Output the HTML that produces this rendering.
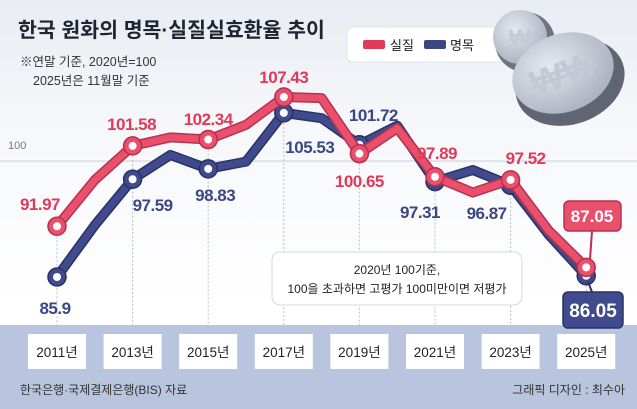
<!DOCTYPE html>
<html><head><meta charset="utf-8"><style>
html,body{margin:0;padding:0}
body{width:637px;height:409px;overflow:hidden;font-family:"Liberation Sans","Noto Sans CJK KR",sans-serif;position:relative;background:linear-gradient(#e9ecf3 0,#f6f7fa 120px,#ffffff 300px)}
svg{position:absolute;left:0;top:0}
</style></head><body>
<svg width="637" height="409" viewBox="0 0 637 409">
<defs>
<radialGradient id="coinG" cx="0.4" cy="0.35" r="0.7"><stop offset="0" stop-color="#e4e8f0"/><stop offset="1" stop-color="#a9b0bd"/></radialGradient>
</defs>
<rect x="0" y="325" width="637" height="84" fill="#b9c5de"/>
<text x="18" y="37" font-size="20.5" font-weight="bold" fill="#1f2430">한국 원화의 명목·실질실효환율 추이</text>
<text x="20" y="66" font-size="12.5" fill="#333">※연말 기준, 2020년=100</text>
<text x="33" y="85" font-size="12.5" fill="#333">2025년은 11월말 기준</text>
<g>
<rect x="347" y="27" width="165" height="35" rx="6" fill="#fff" stroke="#dde1ea"/>
<rect x="363" y="40" width="22" height="9" rx="2" fill="#e03a5a"/>
<text x="390" y="50" font-size="13" fill="#222">실질</text>
<rect x="424" y="40" width="22" height="9" rx="2" fill="#3b4785"/>
<text x="450" y="50" font-size="13" fill="#222">명목</text>
</g>
<g>
<ellipse cx="525" cy="42" rx="30" ry="30" fill="#6e7482"/>
<ellipse cx="520" cy="37" rx="27" ry="27" fill="url(#coinG)"/>
<text x="520" y="46" font-size="24" font-weight="bold" fill="#c5cbd6" text-anchor="middle">₩</text>
<ellipse cx="570" cy="82" rx="56" ry="42" fill="#5f6572" transform="rotate(-20 570 82)"/>
<ellipse cx="563" cy="73" rx="52" ry="39" fill="url(#coinG)" transform="rotate(-20 563 73)"/>
<text x="563" y="86" font-size="36" font-weight="bold" fill="#c3c9d4" text-anchor="middle" transform="rotate(-20 563 73)">₩₩</text>
</g>
<g id="grid"></g>
<g id="plot"></g>
<g>
<rect x="272" y="252" width="250" height="53" rx="8" fill="#fff" stroke="#d5d9e2"/>
<text x="397" y="274" font-size="12" fill="#222" text-anchor="middle">2020년 100기준,</text>
<text x="397" y="293" font-size="12" fill="#222" text-anchor="middle">100을 초과하면 고평가  100미만이면 저평가</text>
</g>
<g id="xaxis"></g>
<text x="20" y="394" font-size="12" fill="#333">한국은행·국제결제은행(BIS) 자료</text>
<text x="625" y="394" font-size="12" fill="#333" text-anchor="end">그래픽 디자인 : 최수아</text>
</svg>
<script>
const years=[2011,2012,2013,2014,2015,2016,2017,2018,2019,2020,2021,2022,2023,2024,2025];
const realVals=[91.97,97.5,101.58,102.6,102.34,104.1,107.43,107.3,100.65,103.7,97.89,96.0,97.52,91.5,87.05];
const nomVals=[85.9,92.1,97.59,100.5,98.83,99.7,105.53,104.9,101.72,104.0,97.31,98.7,96.87,91.0,86.05];
const tickYears=[2011,2013,2015,2017,2019,2021,2023,2025];
const realLabels=[[2011,"91.97"],[2013,"101.58"],[2015,"102.34"],[2017,"107.43"],[2019,"100.65"],[2021,"97.89"],[2023,"97.52"]];
const nomLabels=[[2011,"85.9"],[2013,"97.59"],[2015,"98.83"],[2017,"105.53"],[2019,"101.72"],[2021,"97.31"],[2023,"96.87"]];
const refValue=100;
const NS="http://www.w3.org/2000/svg";
function xs(yr){return 57+(yr-2011)*37.8;}
function ys(v){return 97+(107.43-v)*8.36;}
function mk(tag,attrs,parent){const e=document.createElementNS(NS,tag);for(const k in attrs)e.setAttribute(k,attrs[k]);parent.appendChild(e);return e;}
const grid=document.getElementById('grid'),plot=document.getElementById('plot'),xaxis=document.getElementById('xaxis');
const rl=mk('line',{x1:0,x2:637,y1:ys(refValue)+2,y2:ys(refValue)+2,stroke:'#dfe3ea','stroke-width':2},grid);


const rt=mk('text',{x:8,y:ys(refValue)-10,'font-size':11,fill:'#777'},grid);rt.textContent='100';


tickYears.forEach(yr=>{
  const g=mk('line',{x1:xs(yr),x2:xs(yr),y1:ys(realVals[yr-2011])+10,y2:325,stroke:'#b8bdc8','stroke-width':1,'stroke-dasharray':'2,2'},grid);
  
  
  const b=mk('rect',{x:xs(yr)-29,y:334,width:58,height:35,fill:'#fff'},xaxis);
  
  
  const t=mk('text',{x:xs(yr),y:357,'font-size':13.5,fill:'#222','text-anchor':'middle'},xaxis);t.textContent=yr+'년';
  
  
});
function drawSeries(vals,col,dark,name){
  const pts=vals.map((v,i)=>xs(years[i])+','+ys(v)).join(' ');
  mk('polyline',{points:pts,fill:'none',stroke:dark,'stroke-width':10,'stroke-linejoin':'round','stroke-linecap':'round'},plot);
  const l=mk('polyline',{points:pts,fill:'none',stroke:col,'stroke-width':7,'stroke-linejoin':'round','stroke-linecap':'round'},plot);
  
  
  vals.forEach((v,i)=>{if((years[i]-2011)%2)return;
    const c=mk('circle',{cx:xs(years[i]),cy:ys(v),r:9,fill:col,stroke:dark,'stroke-width':1.5},plot);
    
    
    mk('circle',{cx:xs(years[i]),cy:ys(v),r:4,fill:'#fff'},plot);
  });
}
drawSeries(nomVals,'#3f4b8c','#2a3264','nominal');
drawSeries(realVals,'#e8506c','#b83050','real');
function lbl(yr,txt,dx,dy,col,name){
  const t=mk('text',{x:xs(yr)+dx,y:dy,'font-size':17,'font-weight':'bold',fill:col,'text-anchor':'middle','letter-spacing':'-0.5'},plot);t.textContent=txt;
  
  
}
const rOff={2011:[-17,210],2013:[-1,130],2015:[0,125],2017:[0,83],2019:[0,187],2021:[2,159],2023:[15,164]};
realLabels.forEach(([y,t])=>lbl(y,t,rOff[y][0],rOff[y][1],'#e03a5a','real-label-'+y));
const nOff={2011:[-2,314],2013:[20,211],2015:[7,201],2017:[26,153],2019:[14,121],2021:[-15,218],2023:[-24,219]};
nomLabels.forEach(([y,t])=>lbl(y,t,nOff[y][0],nOff[y][1],'#3b4785','nominal-label-'+y));
const rb=mk('g',{},plot);


mk('rect',{x:564,y:201,width:57,height:30,rx:5,fill:'#e8506c',stroke:'#b83050','stroke-width':1.5},rb);
mk('line',{x1:592,y1:231,x2:590,y2:ys(realVals[14])-8,stroke:'#b83050','stroke-width':2},rb);
const rt2=mk('text',{x:592,y:222,'font-size':17,'font-weight':'bold',fill:'#fff','text-anchor':'middle'},rb);rt2.textContent=realVals[14].toFixed(2);
const nb=mk('g',{},plot);


mk('line',{x1:588,y1:ys(nomVals[14])+6,x2:592,y2:292,stroke:'#2a3264','stroke-width':2},nb);
mk('rect',{x:563,y:292,width:60,height:36,rx:5,fill:'#3f4b8c',stroke:'#2a3264','stroke-width':1.5},nb);
const nt2=mk('text',{x:593,y:317,'font-size':19,'font-weight':'bold',fill:'#fff','text-anchor':'middle'},nb);nt2.textContent=nomVals[14].toFixed(2);
</script>
</body></html>
